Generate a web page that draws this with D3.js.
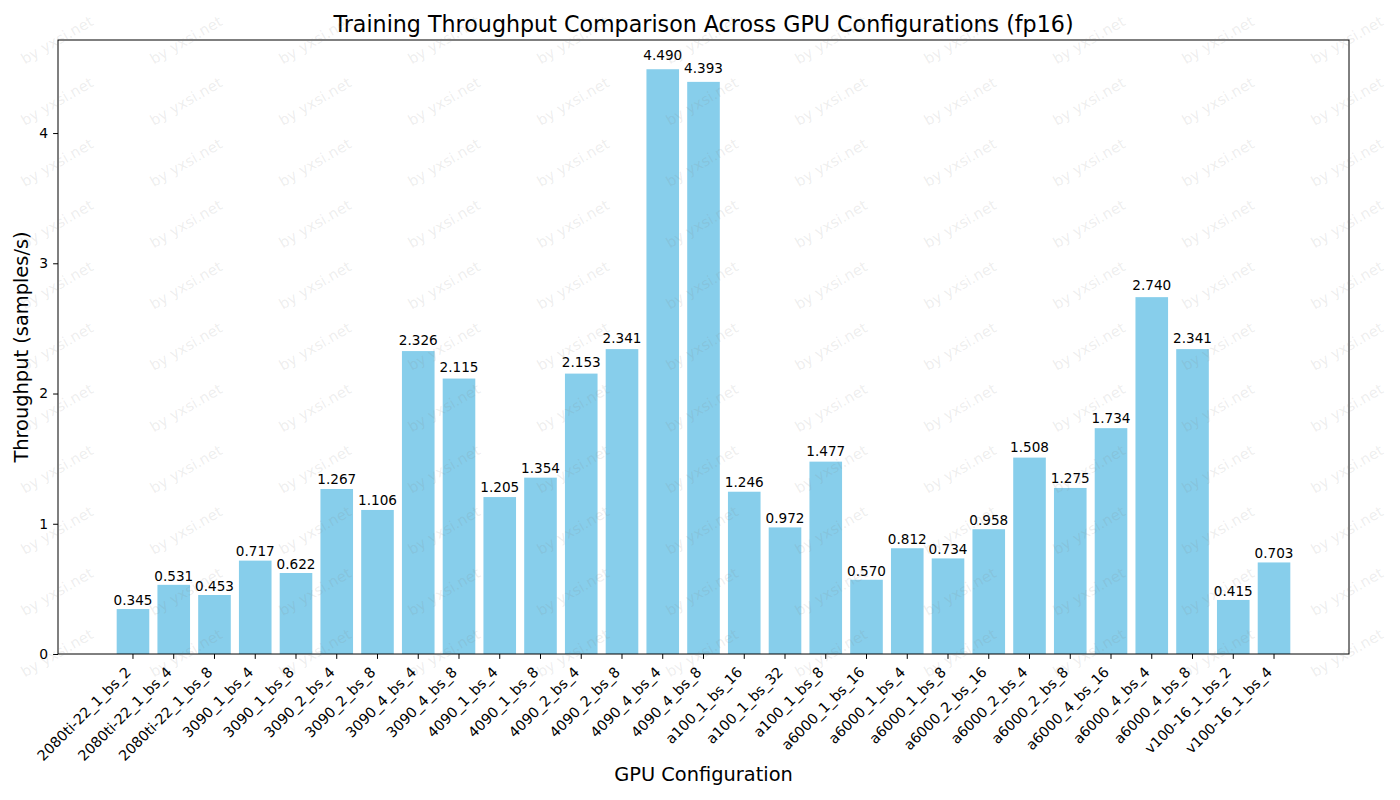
<!DOCTYPE html>
<html><head><meta charset="utf-8">
<script src="https://cdn.jsdelivr.net/npm/d3@7/dist/d3.min.js"></script>
<style>body{margin:0;background:#fff}svg{display:block;font-family:"DejaVu Sans",sans-serif}</style>
</head><body>
<svg id="c" width="1400" height="800"></svg>
<script>
const categories = ["2080ti-22_1_bs_2","2080ti-22_1_bs_4","2080ti-22_1_bs_8","3090_1_bs_4","3090_1_bs_8","3090_2_bs_4","3090_2_bs_8","3090_4_bs_4","3090_4_bs_8","4090_1_bs_4","4090_1_bs_8","4090_2_bs_4","4090_2_bs_8","4090_4_bs_4","4090_4_bs_8","a100_1_bs_16","a100_1_bs_32","a100_1_bs_8","a6000_1_bs_16","a6000_1_bs_4","a6000_1_bs_8","a6000_2_bs_16","a6000_2_bs_4","a6000_2_bs_8","a6000_4_bs_16","a6000_4_bs_4","a6000_4_bs_8","v100-16_1_bs_2","v100-16_1_bs_4"];
const throughput = [0.345,0.531,0.453,0.717,0.622,1.267,1.106,2.326,2.115,1.205,1.354,2.153,2.341,4.490,4.393,1.246,0.972,1.477,0.570,0.812,0.734,0.958,1.508,1.275,1.734,2.740,2.341,0.415,0.703];
const yTicks = [0,1,2,3,4];
const title = "Training Throughput Comparison Across GPU Configurations (fp16)";
const xLabel = "GPU Configuration";
const yLabel = "Throughput (samples/s)";
const watermark = "by yxsi.net";

const svg = d3.select("#c");
const L = 58, R = 1349, T = 40, B = 654;
const x = d3.scaleBand().domain(categories).range([L, R]).paddingInner(0.2).paddingOuter(1.44);
const yMax = d3.max(throughput) * 1.05;
const y = d3.scaleLinear().domain([0, yMax]).range([B, T]);

// bars
svg.append("g").selectAll("rect").data(categories).join("rect")
  .attr("x", d => x(d)).attr("width", x.bandwidth())
  .attr("y", (d,i) => y(throughput[i])).attr("height", (d,i) => B - y(throughput[i]))
  .attr("fill", "#87ceeb");

// value labels (placed just above each bar, slightly higher for tall bars)
svg.append("g").selectAll("text").data(categories).join("text")
  .attr("x", d => x(d) + x.bandwidth()/2)
  .attr("y", (d,i) => y(throughput[i] * 1.01) - 3.3)
  .attr("text-anchor", "middle").attr("font-size", "13.6px").attr("fill", "#000")
  .text((d,i) => throughput[i].toFixed(3));

// y axis
const yAxis = svg.append("g").attr("transform", `translate(${L},0)`)
  .call(d3.axisLeft(y).tickValues(yTicks).tickFormat(d3.format("d")).tickSize(4.9).tickPadding(4.9));
yAxis.select(".domain").remove();
yAxis.selectAll("text").attr("font-size", "13.9px").attr("fill", "#000").attr("font-family", "DejaVu Sans");
yAxis.selectAll("line").attr("stroke", "#000").attr("stroke-width", 1);

// x axis
const xAxis = svg.append("g").attr("transform", `translate(0,${B})`)
  .call(d3.axisBottom(x).tickSize(4.9).tickSizeOuter(0).tickPadding(0));
xAxis.select(".domain").remove();
xAxis.selectAll("line").attr("stroke", "#000").attr("stroke-width", 1);
xAxis.selectAll("text")
  .attr("font-size", "14.3px").attr("fill", "#000").attr("font-family", "DejaVu Sans")
  .attr("text-anchor", "end").attr("dy", null).attr("y", null)
  .attr("transform", "translate(-1,19) rotate(-45)");

// frame
svg.append("rect").attr("x", L).attr("y", T).attr("width", R - L).attr("height", B - T)
  .attr("fill", "none").attr("stroke", "#000").attr("stroke-width", 1);

// title & labels
svg.append("text").attr("x", (L+R)/2).attr("y", 32).attr("text-anchor", "middle")
  .attr("font-size", "22.2px").attr("fill", "#000").text(title);
svg.append("text").attr("x", (L+R)/2).attr("y", 781).attr("text-anchor", "middle")
  .attr("font-size", "19.4px").attr("fill", "#000").text(xLabel);
svg.append("text").attr("transform", `translate(28,${(T+B)/2}) rotate(-90)`).attr("text-anchor", "middle")
  .attr("font-size", "19.4px").attr("fill", "#000").text(yLabel);

// watermark grid
const wm = svg.append("g").attr("pointer-events", "none");
const cols = d3.range(11), rows = d3.range(11);
cols.forEach(c => rows.forEach(r => {
  wm.append("text").attr("transform", `translate(${57 + c*129},${40 + r*61.3}) rotate(-30)`)
    .attr("text-anchor", "middle").attr("dy", "0.35em").attr("font-size", "14.7px")
    .attr("fill", "rgba(128,128,128,0.14)").text(watermark);
}));
</script>
</body></html>
